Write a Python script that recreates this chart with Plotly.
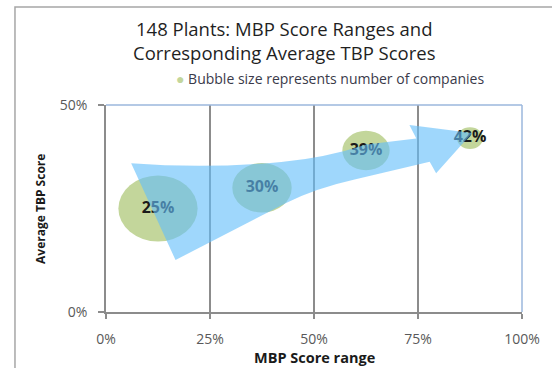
import numpy as np
import plotly.graph_objects as go

# MBP score range midpoints and the average TBP score of each group
mbp_mid = [0.125, 0.375, 0.625, 0.875]
avg_tbp = [0.25, 0.30, 0.39, 0.42]
companies = [73, 41, 26, 8]          # 148 plants in total
labels = [f"{v:.0%}" for v in avg_tbp]

x_ticks = [0, 0.25, 0.5, 0.75, 1.0]
y_ticks = [0, 0.5]

FONT = "Open Sans"
GRID = "#8c8c8c"
BUBBLE = "#c3d69b"

fig = go.Figure()

# bubble value labels (drawn under the trend arrow)
fig.add_trace(go.Scatter(
    x=mbp_mid, y=avg_tbp, mode="text", text=labels,
    textposition="middle center",
    textfont=dict(family=FONT, size=16, color="#1a1a1a", weight="bold"),
    showlegend=False, hoverinfo="skip",
))

shapes = []

# bubbles: area proportional to number of companies (slightly wider than tall)
half_w_unit = 0.01115
half_h_unit = 0.00932
for x, y, n in zip(mbp_mid, avg_tbp, companies):
    rx = np.sqrt(n) * half_w_unit
    ry = np.sqrt(n) * half_h_unit
    shapes.append(dict(
        type="circle", xref="x", yref="y", layer="below",
        x0=x - rx, x1=x + rx, y0=y - ry, y1=y + ry,
        fillcolor=BUBBLE, line=dict(width=0),
    ))

# wide curved trend arrow rising left to right
arrow_path = (
    "M 0.0605,0.3592 "
    "Q 0.24,0.3454 0.4212,0.3623 "
    "Q 0.5271,0.3720 0.6259,0.4046 "
    "L 0.7459,0.4191 "
    "L 0.7294,0.4517 "
    "L 0.880,0.4324 "
    "L 0.7936,0.3350 "
    "L 0.7781,0.3630 "
    "L 0.5976,0.3200 "
    "Q 0.5035,0.2988 0.4329,0.2633 "
    "L 0.1671,0.1256 Z"
)
shapes.append(dict(
    type="path", xref="x", yref="y", layer="above", path=arrow_path,
    fillcolor="rgba(100,190,250,0.62)", line=dict(width=0),
))

# plot-area border on top and right
shapes.append(dict(type="line", xref="paper", yref="paper", x0=0, x1=1, y0=1, y1=1,
                   line=dict(color="#9bb7dc", width=1.5)))
shapes.append(dict(type="line", xref="paper", yref="paper", x0=1, x1=1, y0=0, y1=1,
                   line=dict(color="#9bb7dc", width=1.5)))

# outer chart frame
shapes.append(dict(type="rect", xref="paper", yref="paper",
                   x0=-0.2188, x1=1.1, y0=-0.35, y1=1.4734,
                   line=dict(color="#a6a6a6", width=1.5), fillcolor="rgba(0,0,0,0)"))

annotations = [
    dict(text="148 Plants: MBP Score Ranges and", x=0.4282, y=1.3696,
         xref="paper", yref="paper", xanchor="center", yanchor="middle",
         showarrow=False, font=dict(family=FONT, size=18.5, color="#1f1f1f")),
    dict(text="Corresponding Average TBP Scores", x=0.4282, y=1.2536,
         xref="paper", yref="paper", xanchor="center", yanchor="middle",
         showarrow=False, font=dict(family=FONT, size=18.5, color="#1f1f1f")),
    dict(text=f"<span style='color:{BUBBLE}'>●</span> Bubble size represents number of companies",
         x=0.1624, y=1.1304, xref="paper", yref="paper", xanchor="left", yanchor="middle",
         showarrow=False, font=dict(family=FONT, size=14, color="#3a3a4a")),
    dict(text="<b>MBP Score range</b>", x=0.5, y=-0.2222,
         xref="paper", yref="paper", xanchor="center", yanchor="middle",
         showarrow=False, font=dict(family=FONT, size=14.5, color="#1a1a1a")),
    dict(text="<b>Average TBP Score</b>", x=-0.1576, y=0.5, textangle=-90,
         xref="paper", yref="paper", xanchor="center", yanchor="middle",
         showarrow=False, font=dict(family=FONT, size=12, color="#1a1a1a")),
]

fig.update_layout(
    width=552, height=368,
    margin=dict(l=106, r=21, t=105, b=56),
    paper_bgcolor="white", plot_bgcolor="white",
    showlegend=False,
    shapes=shapes, annotations=annotations,
    xaxis=dict(
        range=[0, 1], tickvals=x_ticks, tickformat=".0%",
        showgrid=True, gridcolor=GRID, gridwidth=1.5, zeroline=False,
        showline=True, linecolor=GRID, linewidth=1.5,
        ticks="outside", ticklen=5, tickcolor=GRID, tickwidth=1.5,
        ticklabelstandoff=8,
        tickfont=dict(family=FONT, size=14, color="#595959"),
        fixedrange=True,
    ),
    yaxis=dict(
        range=[0, 0.5], tickvals=y_ticks, tickformat=".0%",
        showgrid=False, zeroline=False,
        showline=True, linecolor=GRID, linewidth=1.5,
        ticks="outside", ticklen=6, tickcolor=GRID, tickwidth=1.5,
        ticklabelstandoff=8,
        tickfont=dict(family=FONT, size=14, color="#595959"),
        fixedrange=True,
    ),
)

fig.write_html("out.html")
